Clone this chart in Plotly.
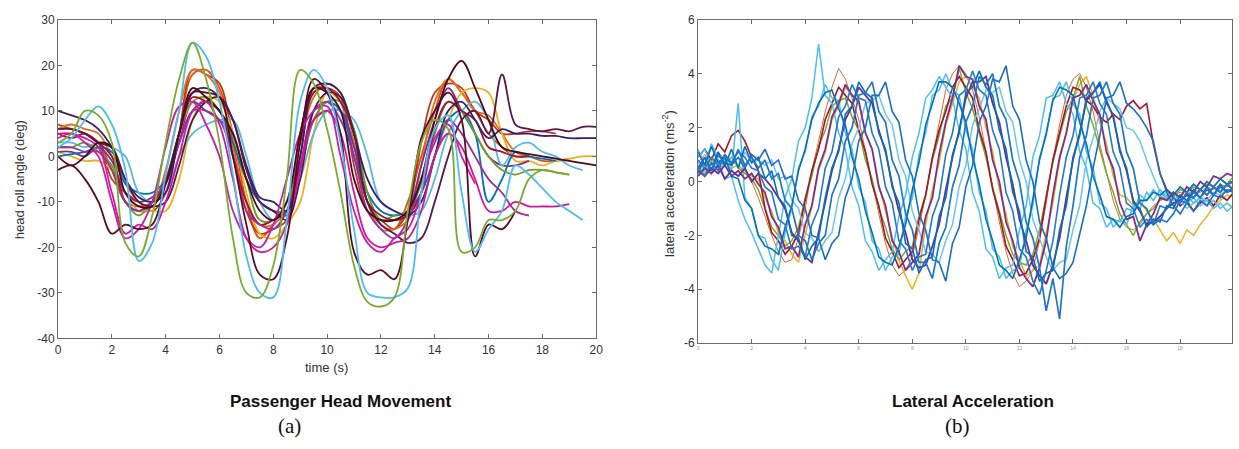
import plotly.graph_objects as go

# ---------------- data: head roll angle (deg), sampled every 0.5 s ----------------
t_head = [i * 0.5 for i in range(41)]

head_green = [3,5,10,9,3,-19,-22,-13,3,17,25,17,3,-18,-30,-31,-24,-5,19,16,6,-8,-24,-32,-33,-31,-12,3,8,6,-21,-20,-14,-14,-12,-5,-3,-3.5,-4,None,None]
head_lightblue = [2,4,8,11,7,-3,-23,-19,-4,10,25,22,12,-4,-22,-30,-31,-14,12,19,15,3,-16,-30,-31,-31,-29,-8,6,9,-8,-21,-16,-12,-2,-4,-7,-10,-12,-14,None]
head_maroon_a = [-3,-2,-5,-10,-17,-15,-16,-15,-6,5,14,14,13,0,-15,-26,-27,-18,3,17,14,5,-21,-26,-25,-27,-14,4,10,14,8,-22,-15,-16,-12,None,None,None,None,None,None]
head_maroon_b = [0,-2,0,3,2,-8,-11,-11,-6,5,15,13,10,5,-5,-12,-14,-10,5,15,14,10,-5,-12,-14,-14,-12,-5,8,17,21,15,8,2,1,0.5,0,-0.5,-1,-1.5,-2]
head_plum = [6,6,5,3,2,-5,-10,-11,-10,-2,8,12,13,8,-3,-10,-12,-14,-5,10,14,13,5,-10,-15,-17,-19,-18,-10,0,8,10,5,18,7,6,5.5,6,5.5,6.5,6.5]
head_magenta = [5,5,4,2,-8,-17,-15,-16,-10,0,10,12,7,-5,-18,-21,-20,-15,-3,8,10,5,-8,-18,-20,-19,-18,-12,0,5,2,-5,-12,-12,-10,-11,-11,-11,-10.5,None,None]
head_magenta2 = [4,5,3,0,-10,-18,-16,-10,2,11,12,7,0,-12,-18,-20,-15,-5,5,10,11,0,-12,-19,-21,-18,-16,-8,4,7,0,-6,None,None,None,None,None,None,None,None,None]
head_orange = [6,6,5,3,-3,-10,-11,-10,-5,5,18,19,15,5,-10,-18,-15,-12,5,15,15,12,0,-10,-15,-16,-10,0,10,17,14,10,5,2,0,0,-1,-1,-0.5,None,None]
head_orangered = [7,6,5,3,-5,-8,-10,-12,-8,5,19,18,16,3,-12,-17,-16,-14,5,14,15,13,-2,-12,-14,-16,-12,3,14,16,15,10,8,5,5,5.5,5.5,5,None,None,None]
head_yellow = [1,0,-1,-1,-3,-8,-12,-12,-12,-5,8,13,12,5,-8,-17,-18,-15,-10,5,14,12,5,-8,-14,-13,-12,-10,0,8,14,15,14,5,-1,-1,-2,-1,-0.5,0,0]
head_purple = [1,1,0,2,-1,-8,-10,-9,-6,3,12,10,8,5,-5,-10,-12,-12,-2,8,10,10,2,-10,-14,-14,-12,-2,8,15,10,5,0,-2,-2,-1,None,None,None,None,None]
head_darkpurple = [10,9,8,6,2,-5,-9,-10,-8,5,14,15,13,8,-2,-9,-10,-12,0,15,16,14,5,-5,-10,-12,-13,-10,0,10,12,8,4,6,5,5,4.5,4.5,4,4,4]
head_blue = [0,0.5,1,2,1,-6,-8,-8,-5,3,10,12,10,3,-5,-10,-12,-13,-3,8,12,10,0,-8,-12,-13,-12,-8,0,8,10,5,-10,-5,1,0,-0.5,-1,None,None,None]
head_cyan = [3,3,2,3,2,0,-8,-10,-8,0,5,7,8,8,0,-10,-14,-12,-5,5,10,10,8,0,-10,-12,-13,-12,-5,5,10,12,8,-2,2,3,1,0,-2,-3,None]
head_green2 = [2,2,3,1,-2,-10,-13,-10,-5,5,12,13,10,5,-5,-14,-14,-10,-3,8,12,12,6,-8,-14,-13,-12,-6,5,12,10,5,0,-3,-4,-3,-3,-3.5,-4,None,None]
head_red = [5,4,5,3,0,-10,-12,-10,-6,5,13,12,10,0,-10,-15,-14,-12,0,14,15,12,5,-10,-13,-14,-13,-8,6,12,10,8,2,1,0,0,None,None,None,None,None]
head_violet = [2,2,1,1,-3,-10,-12,-10,-5,3,10,10,8,0,-12,-15,-16,-12,-2,10,12,8,0,-12,-16,-18,-14,-5,3,8,5,0,-5,-8,-12,-13,None,None,None,None,None]
head_orange2 = [6,7,6,5,0,-6,-10,-11,-3,10,19,18,14,2,-10,-15,-15,-10,3,13,16,14,3,-10,-16,-16,-14,-2,12,17,14,10,9,5,1,0,None,None,None,None,None]

head_series = [
    (head_orange, "#D95319"), (head_orangered, "#C0391B"), (head_orange2, "#E07020"),
    (head_yellow, "#EDB120"), (head_purple, "#7E2F8E"), (head_blue, "#0072BD"),
    (head_cyan, "#5BB8E0"), (head_green2, "#6A9F2A"), (head_red, "#A2142F"),
    (head_violet, "#9B2FA0"), (head_darkpurple, "#3B1F6E"), (head_plum, "#5A1848"),
    (head_magenta2, "#C81FA8"), (head_magenta, "#D4169B"), (head_maroon_b, "#4A0A1C"),
    (head_maroon_a, "#5C0A22"), (head_lightblue, "#4DBEEE"), (head_green, "#77AC30"),
]

# ---------------- data: lateral acceleration (m/s^2), sampled every 0.25 s ----------------
t_acc = [i * 0.25 for i in range(81)]

acc_r1 = [0.3,0.9,0.4,1.1,0.6,1.2,0.5,1.3,0.7,0.9,
          0.1,0.4,-0.6,-0.9,-2.0,-2.1,-2.9,-2.4,-2.1,-0.6,
          0.5,1.1,2.5,2.8,3.7,3.3,3.1,1.8,1.2,-0.2,
          -0.8,-2.3,-2.5,-3.4,-2.9,-2.8,-1.3,-0.6,1.0,1.8,
          3.3,3.5,4.1,3.5,3.2,1.9,1.2,-0.4,-1.1,-2.6,
          -2.8,-3.7,-3.4,-3.3,-1.8,-0.9,0.9,1.7,3.1,3.3,
          3.7,2.9,2.5,1.1,0.5,-0.8,-1.0,-1.7,-1.4,-1.5,
          -0.9,-1.0,-0.5,-0.7,-0.3,-0.6,-0.2,-0.5,-0.1,-0.4,-0.2]
acc_r2 = [0.5,0.2,0.7,0.4,1.0,0.6,1.2,0.6,0.9,0.5,
          0.8,0.1,0.3,-0.7,-1.0,-2.0,-2.2,-2.9,-2.3,-2.0,
          -0.5,0.1,1.5,2.0,3.2,3.3,3.7,2.6,2.2,0.8,
          0.2,-1.2,-1.8,-3.0,-3.0,-3.6,-2.3,-1.7,-0.2,0.6,
          2.2,2.8,3.9,3.6,4.0,2.8,2.3,0.8,0.0,-1.5,
          -2.1,-3.2,-4.8,-3.6,-5.1,-2.4,-0.9,0.9,1.7,3.1,
          3.2,3.7,2.9,2.5,1.1,0.5,-0.8,-1.0,-1.6,-1.4,
          -1.5,-1.2,-0.7,-0.8,-0.4,-0.6,-0.3,-0.5,-0.2,-0.4,-0.3]
acc_r3 = [1.2,0.6,1.4,0.9,0.8,0.4,2.9,-0.6,-1.0,-2.0,
          -2.1,-2.9,-3.3,-1.9,-1.0,0.5,1.1,2.4,2.8,3.6,
          3.1,3.0,1.8,1.2,-0.2,-0.8,-2.2,-2.5,-3.3,-2.8,
          -2.7,-1.3,-0.6,1.0,1.8,3.2,3.4,4.0,3.4,3.2,
          1.9,1.2,-0.4,-1.1,-2.5,-2.8,-3.6,-3.3,-3.2,-1.8,
          -0.9,0.9,1.7,3.1,3.2,3.7,2.9,2.5,1.1,0.5,
          -0.8,-1.0,-1.7,-1.4,-1.6,-0.9,-1.0,-0.4,-0.7,-0.3,
          -0.6,-0.4,-0.7,-0.5,-0.8,-0.6,-0.9,-0.7,-1.0,-0.8,-1.0]
acc_r4 = [0.7,0.4,0.9,0.5,0.6,0.9,0.5,1.1,0.7,0.8,
          0.6,0.8,0.1,0.2,-0.7,-1.0,-1.9,-2.1,-2.6,-2.2,
          -1.9,-0.6,0.1,1.4,2.0,2.9,3.0,3.2,2.5,2.1,
          0.8,0.2,-1.1,-1.8,-2.6,-2.7,-3.0,-2.2,-1.6,-0.2,
          0.6,2.1,2.7,3.4,3.3,3.5,2.6,2.2,0.8,0.0,
          -1.4,-2.1,-2.8,-3.3,-3.0,-2.9,-1.8,-0.9,0.8,1.6,
          2.6,3.1,2.9,2.7,2.0,1.9,1.5,0.8,0.2,-0.4,
          -0.6,-0.9,-0.7,-1.0,-0.8,-0.6,-0.7,-0.4,-0.5,-0.3,-0.4]
acc_r5 = [0.4,0.2,0.5,0.3,0.6,0.2,0.4,0.1,0.3,-0.1,
          -0.4,-1.3,-1.7,-2.5,-2.4,-2.8,-1.6,-0.9,0.5,1.2,
          2.4,2.9,3.6,3.2,3.0,1.8,1.2,-0.2,-0.9,-2.2,
          -2.6,-3.3,-3.0,-2.7,-1.3,-0.6,1.0,2.2,3.1,4.3,
          3.9,3.8,2.8,2.3,0.8,0.0,-1.5,-2.2,-3.2,-3.6,
          -3.9,-3.2,-2.2,-0.5,0.9,1.8,3.1,3.2,3.6,3.0,
          2.5,1.1,0.5,-0.8,-1.4,-1.3,-2.2,-1.6,-1.2,-0.6,
          -0.7,-0.4,-0.6,-0.2,-0.4,0.0,-0.2,0.2,0.1,0.3,0.2]
acc_r6 = [0.2,0.5,0.3,0.6,0.1,0.4,0.2,0.5,0.0,0.3,
          0.1,-0.2,-0.6,-1.0,-1.9,-2.2,-2.8,-3.0,-1.9,-0.7,
          0.4,1.2,2.3,2.8,3.5,3.2,2.9,1.9,1.1,-0.1,
          -1.1,-1.9,-2.9,-3.2,-3.1,-2.4,-1.6,-0.3,0.9,1.9,
          3.1,3.7,3.7,3.9,2.9,2.2,0.9,-0.1,-1.4,-2.2,
          -3.1,-3.5,-3.8,-3.1,-2.1,-0.6,0.8,1.8,3.0,3.3,
          3.6,3.0,2.4,1.2,0.4,-0.7,-1.1,-1.6,-1.5,-1.3,
          -1.0,-0.8,-0.7,-0.5,-0.6,-0.3,-0.5,-0.2,-0.4,-0.1,-0.3]
acc_r7 = [0.9,1.2,0.8,1.4,1.1,1.7,1.9,1.5,0.9,0.4,
          -1.0,-1.9,-2.2,-2.7,-2.4,-1.9,-0.7,0.4,1.2,2.3,
          2.9,3.5,3.2,2.9,1.9,1.1,-0.1,-0.9,-2.1,-2.6,
          -3.2,-2.9,-2.6,-1.4,-0.5,0.9,1.9,2.6,3.5,3.9,
          3.5,3.1,1.9,1.1,-0.3,-1.2,-2.4,-2.9,-3.5,-3.4,
          -2.9,-2.1,-0.6,0.8,1.8,2.8,3.5,3.4,3.0,2.8,
          2.4,2.2,2.5,2.3,2.8,3.0,2.7,2.9,1.4,0.3,
          -0.3,-0.6,-0.9,-0.7,-1.1,-0.8,-0.6,-0.9,-0.5,-0.7,-0.4]
acc_r8 = [0.5,0.7,0.4,0.8,0.6,0.9,0.5,0.3,0.1,-0.3,
          -1.0,-1.7,-2.0,-2.4,-2.2,-1.7,-0.6,0.2,1.3,1.9,
          2.8,3.0,3.1,2.4,1.9,0.8,0.1,-1.0,-1.7,-2.5,
          -2.9,-2.6,-2.4,-1.3,-0.5,0.8,1.7,2.8,3.1,4.2,
          3.3,2.7,1.8,0.9,-0.2,-1.1,-2.0,-2.7,-3.0,-3.1,
          -2.7,-1.8,-0.6,0.7,1.7,2.6,3.1,3.9,2.8,2.1,
          1.2,0.3,-0.4,-1.2,-1.6,-2.0,-1.5,-1.2,-1.0,-0.7,
          -0.5,-0.6,-0.3,-0.4,-0.2,-0.3,-0.1,-0.2,0.1,-0.1,0.2]
acc_r9 = [0.6,0.3,0.8,0.4,0.7,0.5,0.6,0.3,0.2,0.1,
          -0.6,-1.1,-1.9,-2.2,-2.7,-3.0,-2.0,-0.9,0.4,1.1,
          2.3,2.8,3.5,3.2,2.9,1.8,1.2,-0.1,-1.1,-2.1,
          -2.9,-3.5,-4.0,-3.4,-1.6,-0.3,0.7,2.1,2.9,3.7,
          3.9,3.5,3.1,2.0,1.1,-0.3,-1.2,-2.4,-2.9,-3.5,
          -3.3,-3.1,-1.9,-0.8,0.8,1.8,3.0,3.6,3.9,3.2,
          2.2,1.4,0.2,-0.5,-0.6,-0.9,-0.7,-1.1,-1.4,-1.8,
          -2.2,-1.9,-2.3,-1.8,-2.0,-1.6,-1.3,-0.9,-0.7,-0.5,-0.6]
acc_r10 = [1.1,0.6,1.3,0.7,0.9,0.2,0.1,-0.7,-1.0,-2.0,
           -2.4,-2.5,-2.7,-1.7,-0.9,0.4,1.2,2.3,2.9,3.3,
           3.4,2.7,2.1,0.9,0.1,-1.1,-1.9,-2.8,-3.0,-3.1,
           -2.4,-1.6,-0.3,0.7,2.1,2.9,3.7,3.7,3.5,2.9,
           2.2,0.9,-0.1,-1.4,-2.2,-3.1,-3.3,-3.6,-2.9,-2.1,
           -0.6,0.8,1.8,3.0,3.5,3.4,3.2,2.2,1.4,0.2,
           -0.5,-1.3,-1.4,-1.7,-1.3,-1.2,-0.7,-0.7,-0.4,-0.5,
           -0.3,-0.5,-0.2,-0.4,-0.1,-0.3,0.0,-0.2,0.1,-0.1,0.0]
acc_r11 = [0.9,1.2,0.6,0.8,0.1,0.2,-0.7,-1.4,-1.9,-2.5,
           -3.1,-3.4,-2.0,-0.6,0.1,1.5,2.0,3.1,5.1,3.2,
           2.9,1.8,1.2,-0.2,-0.9,-2.2,-2.6,-3.3,-2.9,-2.6,
           -1.3,-0.5,0.9,1.8,3.1,3.4,3.9,3.5,3.1,1.9,
           1.2,-0.4,-1.1,-2.5,-2.8,-3.6,-3.2,-3.1,-1.8,-0.9,
           0.9,1.7,3.1,3.2,3.7,2.9,2.5,1.1,0.5,-0.8,
           -1.0,-1.7,-1.4,-1.5,-1.0,-1.1,-0.5,-0.7,-0.3,-0.6,
           -0.4,-0.7,-0.5,-0.8,-0.6,-0.9,-0.7,-1.0,-0.8,-1.1,-0.9]
acc_r12 = [0.8,0.5,0.9,0.6,1.0,0.7,1.1,0.9,0.5,0.4,
           -0.2,-0.4,-1.4,-1.6,-2.5,-2.4,-2.8,-1.6,-1.0,0.5,
           1.1,2.4,2.8,3.6,3.1,3.0,1.8,1.2,-0.2,-0.8,
           -2.2,-2.5,-3.3,-2.8,-2.7,-1.3,-0.6,1.0,1.8,3.2,
           3.4,4.1,3.4,3.2,1.9,1.2,-0.4,-1.1,-2.5,-2.8,
           -3.7,-4.2,-3.3,-2.2,-0.5,0.9,1.7,3.1,3.2,3.7,
           2.9,2.5,1.1,0.5,-0.8,-1.0,-1.7,-1.4,-1.6,-0.9,
           -1.0,-0.6,-0.8,-0.4,-0.6,-0.3,-0.5,-0.2,-0.4,-0.1,-0.3]
acc_r13 = [0.7,1.0,0.6,1.1,0.8,0.9,0.6,0.4,0.0,-0.6,
           -1.3,-2.0,-2.6,-3.0,-2.9,-2.1,-1.0,0.4,1.5,2.6,
           3.5,4.2,3.8,3.1,2.3,1.2,0.0,-1.2,-2.3,-3.1,
           -3.5,-3.3,-2.8,-1.7,-0.5,0.9,2.2,3.4,4.0,4.3,
           4.0,3.4,2.4,1.1,-0.2,-1.5,-2.6,-3.4,-3.9,-3.7,
           -3.3,-2.2,-0.8,0.8,2.1,3.2,3.8,4.0,3.5,2.6,
           1.4,0.3,-0.7,-1.4,-1.7,-1.8,-1.6,-1.2,-0.9,-0.7,
           -0.6,-0.5,-0.4,-0.5,-0.3,-0.4,-0.2,-0.3,-0.1,-0.2,0.0]
acc_r14 = [0.5,0.9,0.4,1.0,0.7,0.6,0.9,0.5,1.0,0.8,
           1.2,0.6,0.8,0.1,0.2,-0.7,-1.0,-2.0,-2.1,-2.9,
           -2.3,-2.0,-0.6,0.1,1.5,2.0,3.2,3.2,3.7,2.6,
           2.2,0.8,0.2,-1.2,-1.8,-2.9,-3.0,-3.7,-2.3,-1.7,
           -0.2,0.6,2.2,2.8,3.8,3.7,4.3,2.8,2.3,0.8,
           0.0,-1.5,-2.1,-3.2,-3.6,-3.4,-3.0,-1.9,-0.9,0.5,
           1.7,3.1,3.2,3.7,2.9,2.7,2.4,2.0,1.5,0.3,
           -0.4,-0.9,-1.2,-0.8,-1.1,-0.7,-0.9,-0.5,-0.6,-0.3,-0.4]

acc_series = [
    (acc_r13, "#D95319", 0.9), (acc_r9, "#EDB120", 1.5), (acc_r8, "#77AC30", 1.5),
    (acc_r7, "#A2142F", 1.6), (acc_r4, "#6CC5EF", 1.5), (acc_r3, "#4DBEEE", 1.5),
    (acc_r11, "#4DBEEE", 1.5), (acc_r5, "#7E2F8E", 1.8), (acc_r6, "#6B2C91", 1.8),
    (acc_r10, "#0072BD", 1.6), (acc_r12, "#2878C8", 1.6), (acc_r1, "#0072BD", 1.6),
    (acc_r14, "#1A6FC0", 1.6), (acc_r2, "#2176C7", 1.7),
]

head_ticks = [-40, -30, -20, -10, 0, 10, 20, 30]
acc_ticks = [-6, -4, -2, 0, 2, 4, 6]
time_ticks = [0, 2, 4, 6, 8, 10, 12, 14, 16, 18, 20]

fig = go.Figure()
for ys, col in head_series:
    fig.add_trace(go.Scatter(x=t_head[:len(ys)], y=ys, mode="lines",
                             line=dict(color=col, width=1.8, shape="spline", smoothing=1.0),
                             connectgaps=False, xaxis="x", yaxis="y", hoverinfo="skip"))
for ys, col, w in acc_series:
    fig.add_trace(go.Scatter(x=t_acc[:len(ys)], y=ys, mode="lines", line=dict(color=col, width=w),
                             xaxis="x2", yaxis="y2", hoverinfo="skip"))

W, H = 1239, 449
def px(x): return x / W
def py(y): return 1 - y / H

axis_common = dict(showgrid=False, zeroline=False, showline=True, linecolor="#6b6b6b", linewidth=1,
                   ticks="inside", ticklen=4, tickcolor="#6b6b6b", mirror="ticks",
                   tickfont=dict(family="Liberation Sans, Arial, sans-serif", size=12, color="#333333"))

fig.update_layout(
    width=W, height=H, margin=dict(l=0, r=0, t=0, b=0),
    paper_bgcolor="white", plot_bgcolor="white", showlegend=False,
    xaxis=dict(domain=[px(55.5), px(598)], range=[0, 20], anchor="y",
               tickvals=time_ticks, ticktext=[str(v) for v in time_ticks], **axis_common),
    yaxis=dict(domain=[py(342), py(13.3)], range=[-40, 30], anchor="x",
               tickvals=head_ticks, ticktext=[str(v) for v in head_ticks], **axis_common),
    xaxis2=dict(domain=[px(700.7), 1.0], range=[0, (W - 700.7) / 27.0], anchor="y2",
                tickvals=time_ticks, ticktext=[str(v) for v in time_ticks],
                **{**axis_common, "tickfont": dict(family="Liberation Sans, Arial", size=5, color="#9a9a9a")}),
    yaxis2=dict(domain=[py(347), py(13.3)], range=[-6, 6], anchor="x2",
                tickvals=acc_ticks, ticktext=[str(v) for v in acc_ticks], **axis_common),
)

def note(text, x, y, font, angle=0):
    fig.add_annotation(text=text, x=px(x), y=py(y), xref="paper", yref="paper",
                       xanchor="center", yanchor="middle", textangle=angle,
                       showarrow=False, font=font)

lab = dict(family="Liberation Sans, Arial, sans-serif", color="#333333")
note("head roll angle (deg)", 17, 178, dict(size=13, **lab), -90)
note("time (s)", 326, 372, dict(size=13, **lab))
note("lateral acceleration (ms<sup>-2</sup>)", 671, 182, dict(size=13, **lab), -90)

ttl = dict(family="Liberation Sans, Arial, sans-serif", size=17, color="#111111")
note("<b>Passenger Head Movement</b>", 340, 407, ttl)
note("<b>Lateral Acceleration</b>", 978, 407, ttl)
ser = dict(family="Liberation Serif, Times New Roman, serif", size=21, color="#111111")
note("(a)", 289, 433, ser)
note("(b)", 962, 433, ser)

fig.write_html("out.html")
